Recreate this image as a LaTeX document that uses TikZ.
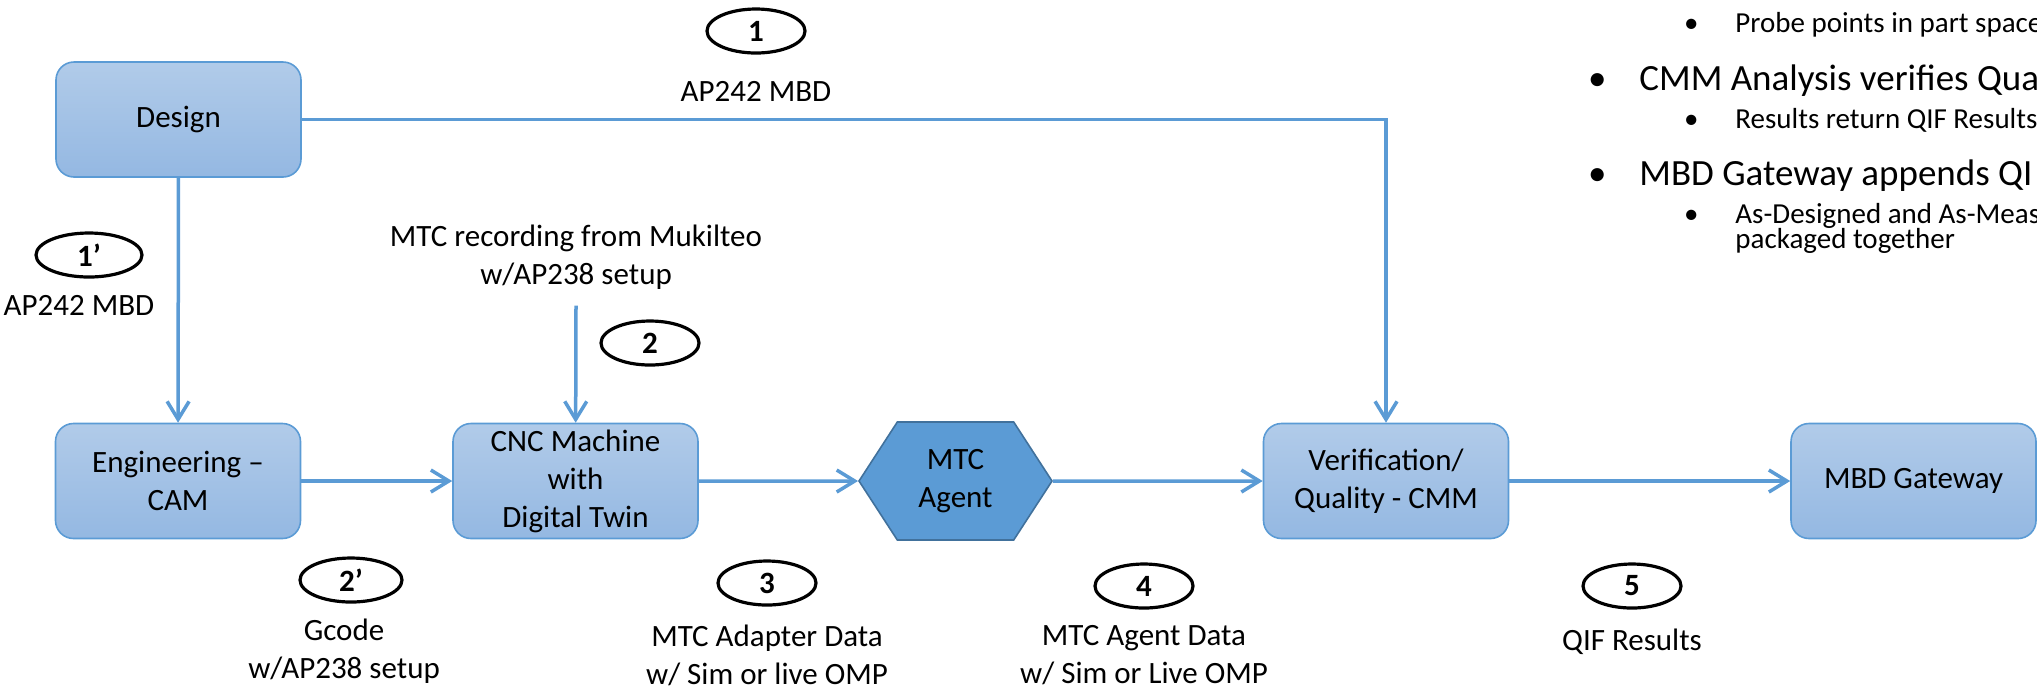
\documentclass[tikz,border=0pt]{standalone}
\usepackage{fontspec}
\setmainfont{Carlito}
\usetikzlibrary{positioning, arrows.meta, shapes.geometric, shapes.symbols}
\definecolor{flowblue}{HTML}{5B9BD5}
\definecolor{boxtop}{HTML}{B1CBE9}
\definecolor{boxbot}{HTML}{94B8E2}
\definecolor{hexline}{HTML}{41719C}
\newcommand{\diag}{\fontsize{15.5pt}{19pt}\selectfont}
\newcommand{\bigpt}{\fontsize{18.5pt}{22pt}\selectfont}
\newcommand{\smallpt}{\fontsize{14.5pt}{17pt}\selectfont}
\newcommand{\bul}[1]{\llap{\makebox[0pt]{\textbullet}\hspace{#1}}}

\begin{document}
\begin{tikzpicture}[x=0.5pt, y=-0.5pt, on grid,
    box/.style={rounded corners=9pt, draw=flowblue, line width=0.8pt, top color=boxtop, bottom color=boxbot,
      minimum width=122.5pt, minimum height=57.5pt, align=center, font=\diag, inner sep=0pt},
    agent/.style={signal, signal to=east and west, signal pointer angle=114, draw=hexline, line width=0.8pt,
      fill=flowblue, minimum width=96.5pt, minimum height=59pt, align=center, font=\diag, inner sep=0pt},
    num/.style={ellipse, draw=black, line width=1.6pt, minimum width=49pt, minimum height=22pt, inner sep=0pt,
      font=\diag\bfseries},
    lab/.style={align=center, font=\diag, inner sep=0pt},
    link/.style={flowblue, line width=1.75pt, -{Straight Barb[length=9pt, width=11pt]}},
    txt/.style={anchor=base west, inner sep=0pt}]
  \useasboundingbox (0,0) rectangle (2037,693);
  \clip (0,0) rectangle (2037,693);

  % process boxes
  \node[box] (design) at (178.5,119.5) {Design};
  \node[box] (eng) at (178,481) {Engineering –\\CAM};
  \node[box] (cnc) at (575.5,481) {CNC Machine\\with\\Digital Twin};
  \node[agent] (agent) at (955.5,481) {MTC\\Agent};
  \node[box] (verif) at (1386,481) {Verification/\\Quality - CMM};
  \node[box] (gateway) at (1913.5,481) {MBD Gateway};

  % step numbers and labels
  \node[num] (n1) at (756,31) {1};
  \node[lab, below=30pt of n1] (l1) {AP242 MBD};
  \node[num, minimum width=53pt] (n1p) at (89,255) {1’};
  \node[lab] (l1p) at (79,305) {AP242 MBD};
  \node[lab] (rec) at (576,257) {MTC recording from Mukilteo\\w/AP238 setup};
  \node[num] (n2) at (650,343) {2};
  \node[num, minimum width=51pt] (n2p) at (351,580) {2’};
  \node[lab] (l2p) at (344,651) {Gcode\\w/AP238 setup};
  \node[num] (n3) at (767,583) {3};
  \node[lab, below=36pt of n3] (l3) {MTC Adapter Data\\w/ Sim or live OMP};
  \node[num] (n4) at (1144,586) {4};
  \node[lab, below=34.5pt of n4] (l4) {MTC Agent Data\\w/ Sim or Live OMP};
  \node[num] (n5) at (1632,586) {5};
  \node[lab, below=28pt of n5] (l5) {QIF Results};

  % notes
  \node[txt, font=\smallpt] (t1) at (1735,32) {\bul{22pt}Probe points in part space};
  \node[txt, font=\bigpt] (t2) at (1639,90) {\bul{21pt}CMM Analysis verifies Qua};
  \node[txt, font=\smallpt] (t3) at (1735,128) {\bul{22pt}Results return QIF Results};
  \node[txt, font=\bigpt] (t4) at (1639,185) {\bul{21pt}MBD Gateway appends QI};
  \node[txt, font=\smallpt] (t5) at (1735,223) {\bul{22pt}As-Designed and As-Meas};
  \node[txt, font=\smallpt] (t6) at (1735,248) {packaged together};

  \draw[link] (design) -- (eng);
  \draw[link] (design) -| (verif);
  \draw[link] ([yshift=-8pt]rec.south) -- (cnc);
  \draw[link] (eng) -- (cnc);
  \draw[link] (cnc) -- (agent);
  \draw[link] (agent) -- (verif);
  \draw[link] (verif) -- (gateway);
\end{tikzpicture}
\end{document}
